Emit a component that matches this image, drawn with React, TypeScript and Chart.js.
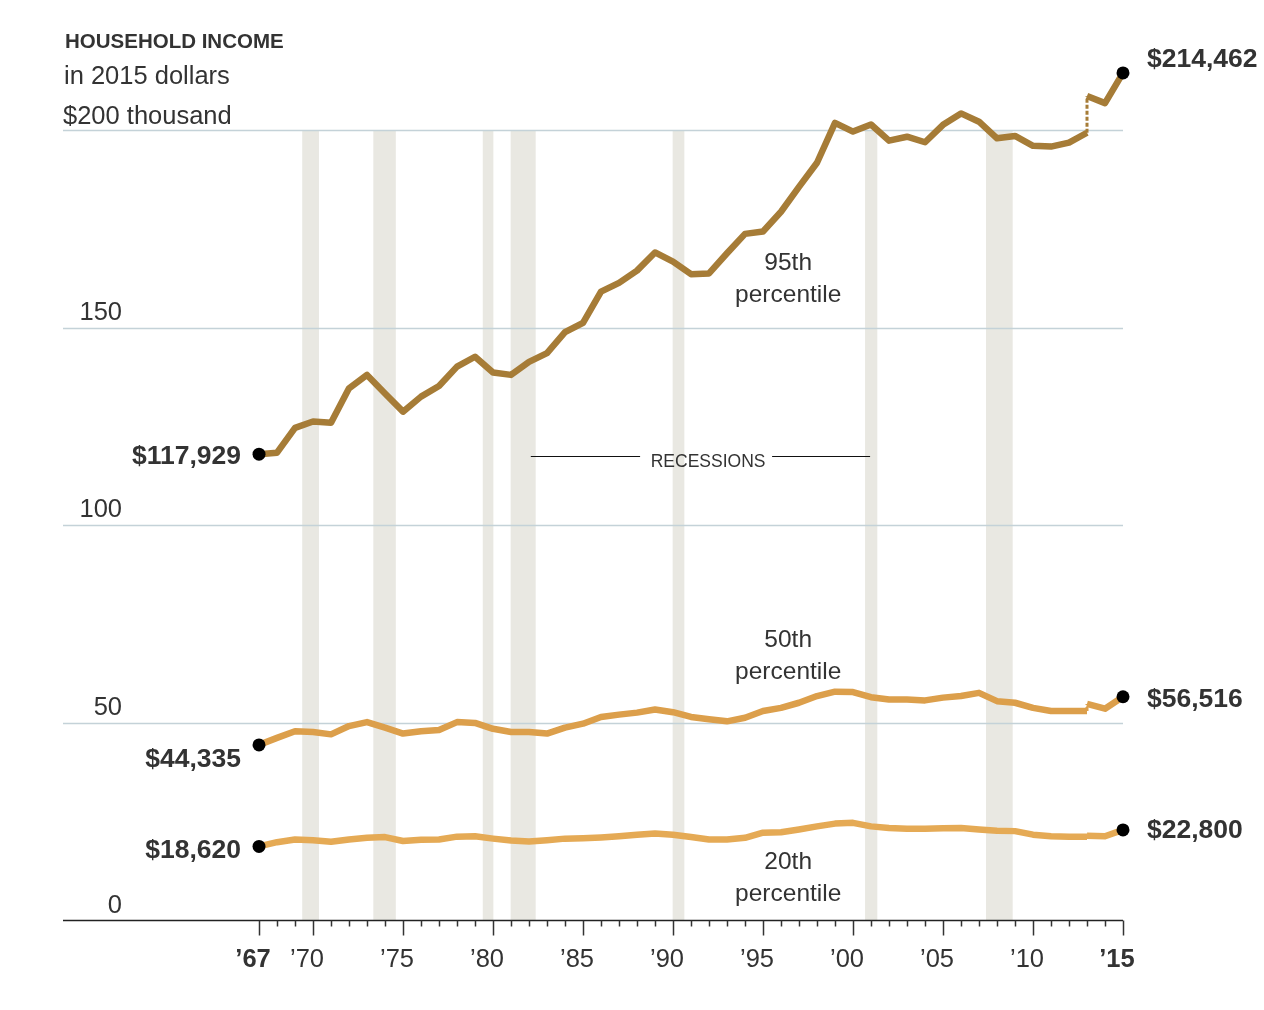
import React, { useEffect, useRef } from 'react';
import { Chart, registerables } from 'chart.js';
Chart.register(...registerables);

// ---------- DATA ----------
const yearsOld = [
  1967, 1968, 1969, 1970, 1971, 1972, 1973, 1974, 1975, 1976,
  1977, 1978, 1979, 1980, 1981, 1982, 1983, 1984, 1985, 1986,
  1987, 1988, 1989, 1990, 1991, 1992, 1993, 1994, 1995, 1996,
  1997, 1998, 1999, 2000, 2001, 2002, 2003, 2004, 2005, 2006,
  2007, 2008, 2009, 2010, 2011, 2012, 2013,
];
const yearsNew = [2013, 2014, 2015];

// thousands of 2015 dollars
const p95Old = [
  117.929, 118.3, 124.6, 126.2, 125.9, 134.6, 138.0, 133.3, 128.7, 132.5,
  135.2, 140.1, 142.6, 138.6, 138.0, 141.3, 143.5, 148.8, 151.2, 159.1,
  161.3, 164.4, 169.0, 166.7, 163.5, 163.7, 168.8, 173.7, 174.3, 179.3,
  185.6, 191.7, 201.8, 199.6, 201.4, 197.3, 198.3, 196.9, 201.3, 204.2,
  202.1, 197.9, 198.5, 196.0, 195.8, 196.8, 199.3,
];
const p95New = [208.6, 206.8, 214.462];

const p50Old = [
  44.335, 46.1, 47.8, 47.6, 47.0, 49.1, 50.1, 48.7, 47.2, 47.8,
  48.1, 50.1, 49.9, 48.4, 47.6, 47.6, 47.2, 48.7, 49.7, 51.4,
  52.0, 52.5, 53.3, 52.6, 51.4, 50.8, 50.3, 51.2, 52.9, 53.7,
  55.0, 56.7, 57.8, 57.7, 56.4, 55.8, 55.8, 55.6, 56.3, 56.7,
  57.5, 55.4, 55.0, 53.7, 52.9, 52.9, 52.9,
];
const p50New = [54.7, 53.5, 56.516];

const p20Old = [
  18.62, 19.7, 20.4, 20.2, 19.8, 20.4, 20.8, 21.0, 20.0, 20.3,
  20.4, 21.1, 21.2, 20.6, 20.1, 19.9, 20.2, 20.6, 20.7, 20.9,
  21.2, 21.6, 21.9, 21.6, 21.0, 20.4, 20.4, 20.8, 22.1, 22.2,
  22.9, 23.7, 24.4, 24.6, 23.7, 23.3, 23.1, 23.1, 23.2, 23.3,
  22.9, 22.6, 22.5, 21.6, 21.2, 21.1, 21.1,
];
const p20New = [21.3, 21.2, 22.8];

const recessionStart = [1969.4, 1973.35, 1979.43, 1980.98, 1989.98, 2000.67, 2007.39];
const recessionEnd = [1970.33, 1974.6, 1980.02, 1982.37, 1990.63, 2001.35, 2008.87];

const gridValues = [50, 100, 150, 200];
const gridLabels = ['50', '100', '150', '$200 thousand'];
const zeroLabel = '0';

const majorTickYears = [1967, 1970, 1975, 1980, 1985, 1990, 1995, 2000, 2005, 2010, 2015];
const majorTickLabels = ['’67', '’70', '’75', '’80', '’85', '’90', '’95', '’00', '’05', '’10', '’15'];
const boldTickYears = [1967, 2015];

const startLabels = ['$117,929', '$44,335', '$18,620'];
const endLabels = ['$214,462', '$56,516', '$22,800'];
const seriesNames = ['95th', '50th', '20th'];

// ---------- STYLE ----------
const C95 = '#a67c37';
const C50 = '#dc9f4b';
const C20 = '#e5aa55';
const TEXT = '#333333';
const SANS = '"Liberation Sans", Arial, "DejaVu Sans", sans-serif';

const pts = (xs: number[], ys: number[]) => xs.map((x, i) => ({ x, y: ys[i] }));

export default function App() {
  const ref = useRef<HTMLCanvasElement | null>(null);

  useEffect(() => {
    const canvas = ref.current;
    if (!canvas) return;

    const decor = {
      id: 'decor',
      beforeDatasetsDraw(chart: any) {
        const { ctx, chartArea } = chart;
        const xs = chart.scales.x;
        const ys = chart.scales.y;
        ctx.save();
        // recession bands
        ctx.fillStyle = '#e9e8e2';
        const top = ys.getPixelForValue(200);
        const bot = ys.getPixelForValue(0);
        recessionStart.forEach((s, i) => {
          const x0 = xs.getPixelForValue(s);
          const x1 = xs.getPixelForValue(recessionEnd[i]);
          ctx.fillRect(x0, top, x1 - x0, bot - top);
        });
        // grid lines
        ctx.strokeStyle = '#c4d2d8';
        ctx.lineWidth = 1.5;
        gridValues.forEach((v) => {
          const y = Math.round(ys.getPixelForValue(v)) + 0.5;
          ctx.beginPath();
          ctx.moveTo(chartArea.left, y);
          ctx.lineTo(chartArea.right, y);
          ctx.stroke();
        });
        // axis line
        const y0 = Math.round(ys.getPixelForValue(0)) + 0.5;
        ctx.strokeStyle = '#222';
        ctx.lineWidth = 1.5;
        ctx.beginPath();
        ctx.moveTo(chartArea.left, y0);
        ctx.lineTo(chartArea.right, y0);
        ctx.stroke();
        // ticks
        ctx.lineWidth = 1.5;
        ctx.strokeStyle = '#333';
        for (let yr = yearsOld[0]; yr <= yearsNew[yearsNew.length - 1]; yr++) {
          const x = Math.round(xs.getPixelForValue(yr)) + 0.5;
          const major = majorTickYears.includes(yr);
          ctx.beginPath();
          ctx.moveTo(x, y0);
          ctx.lineTo(x, y0 + (major ? 15 : 6));
          ctx.stroke();
        }
        ctx.restore();
      },
      afterDraw(chart: any) {
        const { ctx } = chart;
        const xs = chart.scales.x;
        const ys = chart.scales.y;
        ctx.save();
        ctx.fillStyle = TEXT;
        ctx.textBaseline = 'alphabetic';

        // title
        ctx.font = `bold 20.5px ${SANS}`;
        ctx.textAlign = 'left';
        ctx.fillText('HOUSEHOLD INCOME', 65, 48);
        ctx.font = `25.5px ${SANS}`;
        ctx.fillText('in 2015 dollars', 64, 84);

        // y labels
        gridValues.forEach((v, i) => {
          const y = ys.getPixelForValue(v);
          if (v === 200) {
            ctx.textAlign = 'left';
            ctx.fillText(gridLabels[i], 63, y - 6);
          } else {
            ctx.textAlign = 'right';
            ctx.fillText(gridLabels[i], 122, y - 8);
          }
        });
        ctx.textAlign = 'right';
        ctx.fillText(zeroLabel, 122, ys.getPixelForValue(0) - 7);

        // x labels
        ctx.textAlign = 'center';
        const y0 = ys.getPixelForValue(0);
        majorTickYears.forEach((yr, i) => {
          const bold = boldTickYears.includes(yr);
          ctx.font = `${bold ? 'bold ' : ''}25.5px ${SANS}`;
          ctx.fillText(majorTickLabels[i], xs.getPixelForValue(yr) - 6, y0 + 47);
        });

        // end labels
        const firstVals = [p95Old[0], p50Old[0], p20Old[0]];
        const lastVals = [p95New[2], p50New[2], p20New[2]];
        const startOffsets = [10, 22, 12];
        const endOffsets = [-6, 10, 8];
        ctx.font = `bold 26.5px ${SANS}`;
        ctx.textAlign = 'right';
        firstVals.forEach((v, i) => {
          ctx.fillText(startLabels[i], 241, ys.getPixelForValue(v) + startOffsets[i]);
        });
        ctx.textAlign = 'left';
        lastVals.forEach((v, i) => {
          ctx.fillText(endLabels[i], 1147, ys.getPixelForValue(v) + endOffsets[i]);
        });

        // series names
        ctx.font = `24.5px ${SANS}`;
        ctx.textAlign = 'center';
        const nameX = xs.getPixelForValue(1996.4);
        const nameY = [164.6, 69.2, 13.0];
        seriesNames.forEach((n, i) => {
          const yy = ys.getPixelForValue(nameY[i]);
          ctx.fillText(n, nameX, yy);
          ctx.fillText('percentile', nameX, yy + 32);
        });

        // recessions label
        ctx.font = `17.5px ${SANS}`;
        ctx.textAlign = 'center';
        const rx = xs.getPixelForValue(1991.95);
        const ry = ys.getPixelForValue(117);
        ctx.fillText('RECESSIONS', rx, ry + 9);
        ctx.strokeStyle = '#111';
        ctx.lineWidth = 1;
        ctx.beginPath();
        ctx.moveTo(xs.getPixelForValue(1982.1), Math.round(ry) - 1.5);
        ctx.lineTo(rx - 68, Math.round(ry) - 1.5);
        ctx.moveTo(rx + 64, Math.round(ry) - 1.5);
        ctx.lineTo(xs.getPixelForValue(2000.95), Math.round(ry) - 1.5);
        ctx.stroke();
        ctx.restore();
      },
    };

    const lineDs = (data: any[], color: string) => ({
      data,
      borderColor: color,
      borderWidth: 6.5,
      pointRadius: 0,
      tension: 0,
      fill: false,
      borderJoinStyle: 'round' as const,
      clip: false as const,
    });
    const connDs = (a: number, b: number, color: string) => ({
      data: [{ x: 2013, y: a }, { x: 2013, y: b }],
      borderColor: color,
      borderWidth: 3,
      borderDash: [4, 2],
      pointRadius: 0,
      fill: false,
      clip: false as const,
    });

    const dots = [
      { x: yearsOld[0], y: p95Old[0] },
      { x: yearsOld[0], y: p50Old[0] },
      { x: yearsOld[0], y: p20Old[0] },
      { x: yearsNew[2], y: p95New[2] },
      { x: yearsNew[2], y: p50New[2] },
      { x: yearsNew[2], y: p20New[2] },
    ];

    const chart = new Chart(canvas, {
      type: 'line',
      data: {
        datasets: [
          {
            data: dots,
            showLine: false,
            pointRadius: 6.5,
            pointBackgroundColor: '#000',
            pointBorderWidth: 0,
            borderColor: '#000',
            clip: false,
          } as any,
          lineDs(pts(yearsOld, p95Old), C95),
          lineDs(pts(yearsNew, p95New), C95),
          connDs(p95Old[p95Old.length - 1], p95New[0], C95),
          lineDs(pts(yearsOld, p50Old), C50),
          lineDs(pts(yearsNew, p50New), C50),
          connDs(p50Old[p50Old.length - 1], p50New[0], C50),
          lineDs(pts(yearsOld, p20Old), C20),
          lineDs(pts(yearsNew, p20New), C20),
          connDs(p20Old[p20Old.length - 1], p20New[0], C20),
        ],
      },
      options: {
        responsive: false,
        animation: false,
        devicePixelRatio: 1,
        layout: { padding: { left: 63, right: 141, top: 51, bottom: 90 } },
        scales: {
          x: { type: 'linear', min: 1956.11, max: 2015, display: false },
          y: { type: 'linear', min: 0, max: 220, display: false },
        },
        plugins: { legend: { display: false }, tooltip: { enabled: false } },
        events: [],
      },
      plugins: [decor],
    });
    return () => chart.destroy();
  }, []);

  return (
    <div style={{ position: 'fixed', left: 0, top: 0, width: 1264, height: 1010, background: '#fff' }}>
      <canvas ref={ref} width={1264} height={1010} style={{ display: 'block' }} />
    </div>
  );
}
